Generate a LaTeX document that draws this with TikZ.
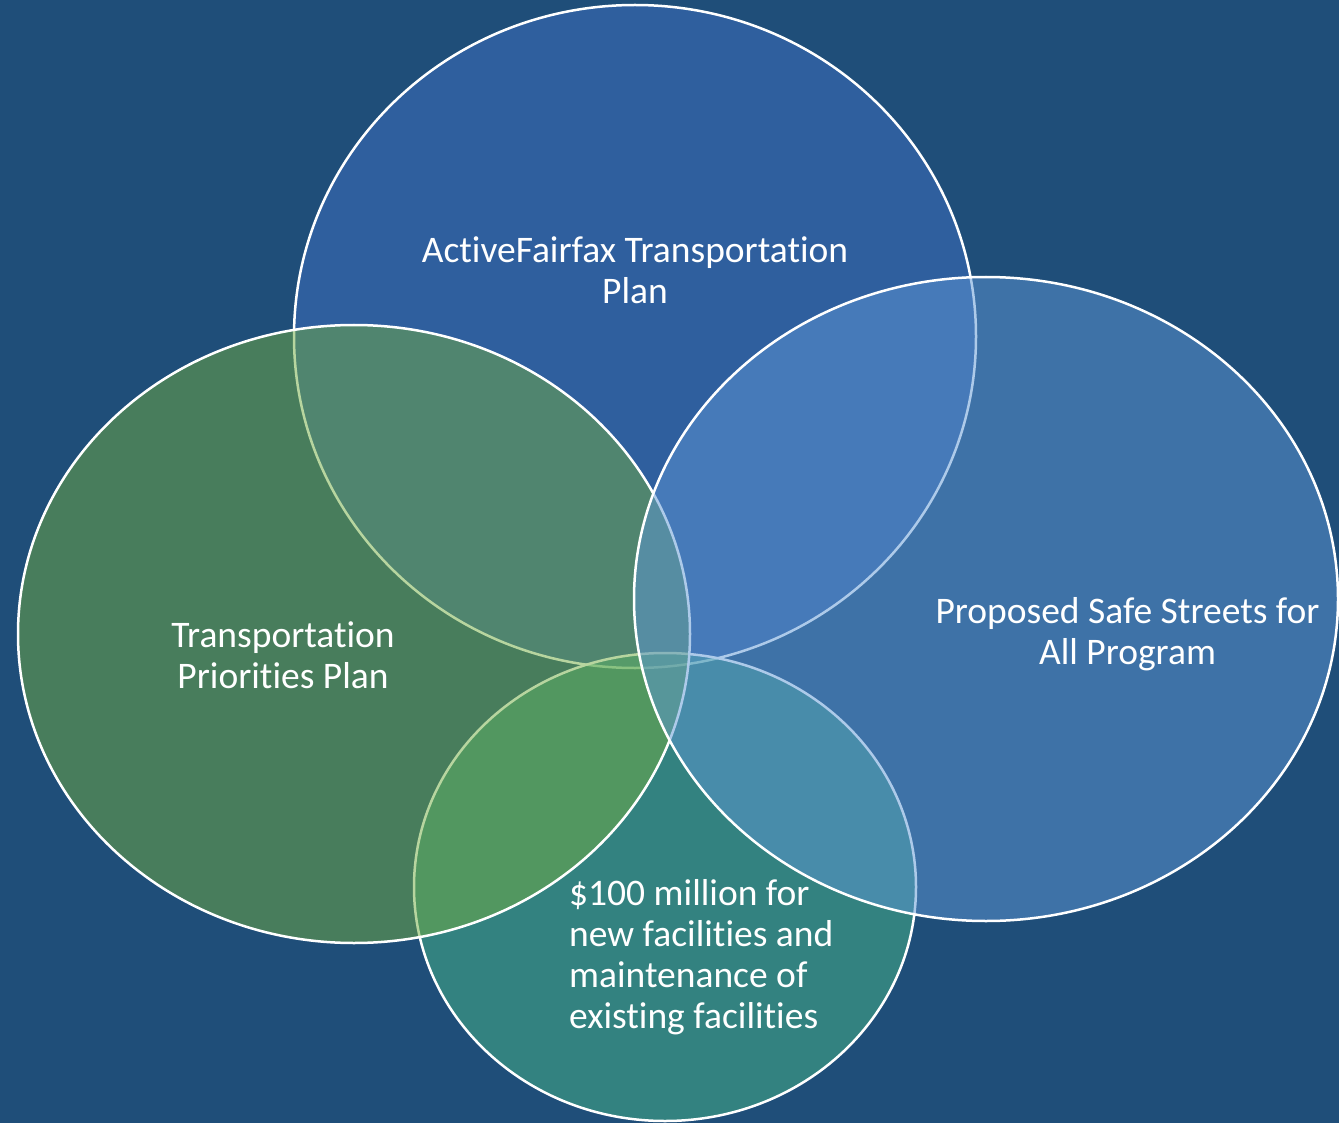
\documentclass[tikz,border=0pt]{standalone}
\usepackage{fontspec}
\setmainfont[Ligatures=NoCommon]{Carlito}
\definecolor{bgblue}{RGB}{31,78,121}
\definecolor{topfill}{RGB}{63,112,195}
\definecolor{leftfill}{RGB}{113,172,65}
\definecolor{rightfill}{RGB}{93,150,213}
\definecolor{botfill}{RGB}{71,182,135}
\begin{document}
\begin{tikzpicture}[x=1pt,y=-1pt,
  venn/.style={draw=white, line width=2.5pt, fill opacity=0.5, draw opacity=1},
  lbl/.style={text=white, inner sep=0pt, font=\fontsize{37.5}{41}\selectfont}]
\fill[bgblue] (0,0) rectangle (1339,1123);
\useasboundingbox (0,0) rectangle (1339,1123);
\path[venn, fill=topfill] (635,336.5) ellipse [x radius=341pt, y radius=331.5pt];
\path[venn, fill=botfill] (665,887) ellipse [x radius=251pt, y radius=234pt];
\path[venn, fill=leftfill] (354,634) ellipse [x radius=336pt, y radius=309pt];
\path[venn, fill=rightfill] (986,599) ellipse [x radius=352pt, y radius=322pt];
\node[lbl, align=center, anchor=base] (tactive) at (635,304) {ActiveFairfax Transportation\\Plan};
\node[lbl, align=center, anchor=base] (tpriority) at (283,688) {Transportation\\Priorities Plan};
\node[lbl, align=center, anchor=base] (tsafe) at (1127.5,664) {Proposed Safe Streets for\\All Program};
\node[lbl, align=left, anchor=base west] (tmoney) at (569,1028) {\$100 million for\\new facilities and\\maintenance of\\existing facilities};
\end{tikzpicture}
\end{document}
